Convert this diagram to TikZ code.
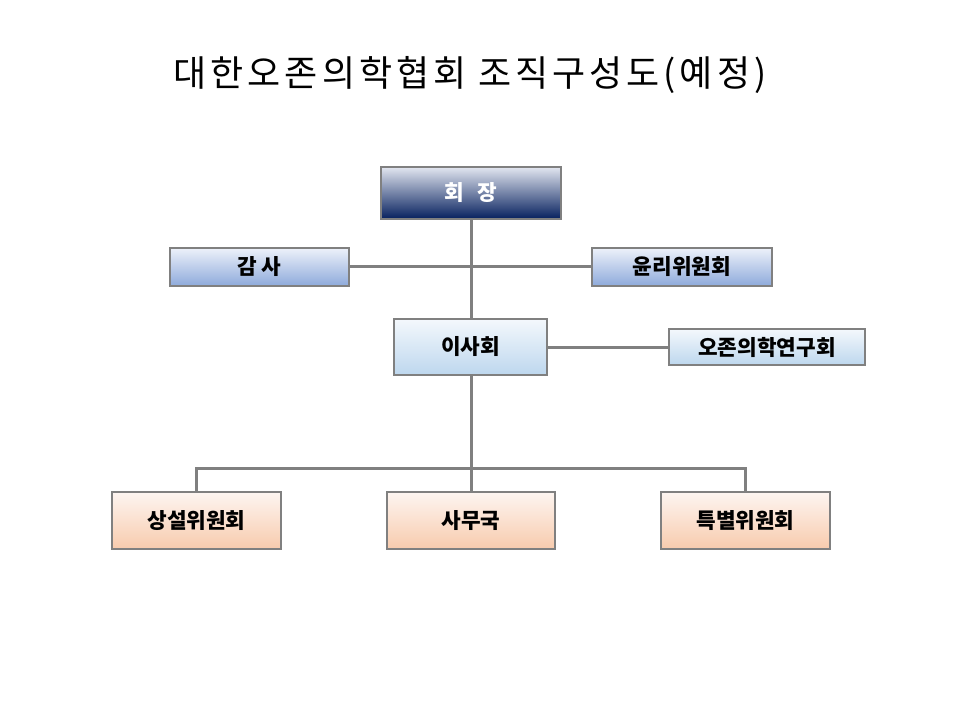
\documentclass[tikz,border=0pt]{standalone}
\usepackage{fontspec}
\setmainfont{Noto Sans CJK KR}
\newfontfamily\titlefont[LetterSpace=11]{Noto Sans CJK KR}
\usetikzlibrary{positioning}
\definecolor{onavy}{HTML}{06205E}
\definecolor{otop}{HTML}{E2E6F0}
\definecolor{oblue}{HTML}{8EAADB}
\definecolor{obluetop}{HTML}{EDF1FA}
\definecolor{osky}{HTML}{BDD7EE}
\definecolor{oskytop}{HTML}{F4F8FC}
\definecolor{opeach}{HTML}{F8CBAD}
\definecolor{opeachtop}{HTML}{FDF5F1}
\definecolor{oline}{HTML}{808080}

\begin{document}
\begin{tikzpicture}[x=0.75pt,y=-0.75pt,every node/.style={font=\fontsize{16}{18}\selectfont\bfseries,align=center},box/.style={draw=oline,line width=1.5pt,inner sep=0pt},link/.style={oline,line width=2.25pt}]
\useasboundingbox[fill=white] (0,0) rectangle (960,720);
\node[font=\titlefont\fontsize{27}{30}\selectfont] (t) at (470,75) {대한오존의학협회 조직구성도(예정)};
\coordinate (m) at (471,267);
\coordinate (j) at (471,468);
\draw[link] (471,219) -- (471,319);
\draw[link] (349,267) -- (592,267);
\draw[link] (547,347) -- (669,347);
\draw[link] (471,375) -- (j) -- (471,492);
\draw[link] (196.5,492) |- (j) -| (745.5,492);
\node[box,minimum width=135pt,minimum height=39pt,top color=otop,middle color=onavy,bottom color=onavy,text=white] (a) at (471,193) {회\hspace{0.6em}장};
\node[box,minimum width=134pt,minimum height=28.5pt,top color=obluetop,bottom color=oblue] (b) at (259.5,267) {감 사};
\node[box,minimum width=135pt,minimum height=28.5pt,top color=obluetop,bottom color=oblue] (c) at (682,267) {윤리위원회};
\node[box,minimum width=114.75pt,minimum height=42pt,top color=oskytop,bottom color=osky] (d) at (470.5,347) {이사회};
\node[box,minimum width=147pt,minimum height=27pt,top color=oskytop,bottom color=osky] (e) at (767,347) {오존의학연구회};
\node[box,minimum width=126.75pt,minimum height=42.75pt,top color=opeachtop,bottom color=opeach] (f) at (196.5,520.5) {상설위원회};
\node[box,minimum width=126pt,minimum height=42.75pt,top color=opeachtop,bottom color=opeach] (g) at (471,520.5) {사무국};
\node[box,minimum width=126.75pt,minimum height=42.75pt,top color=opeachtop,bottom color=opeach] (h) at (745.5,520.5) {특별위원회};
\end{tikzpicture}
\end{document}
